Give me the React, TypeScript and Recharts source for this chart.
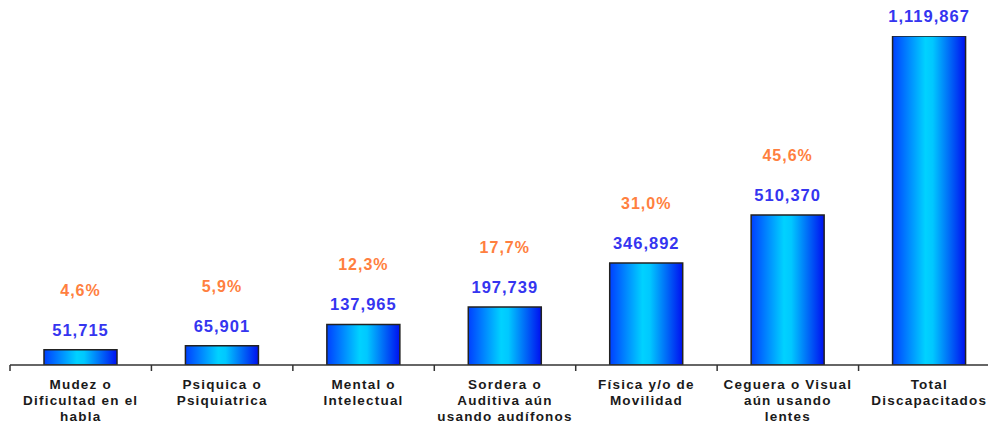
import { Bar, BarChart, LabelList, XAxis, YAxis } from "recharts"

const categories = [
  ["Mudez o", "Dificultad en el", "habla"],
  ["Psiquica o", "Psiquiatrica"],
  ["Mental o", "Intelectual"],
  ["Sordera o", "Auditiva aún", "usando audífonos"],
  ["Física y/o de", "Movilidad"],
  ["Ceguera o Visual", "aún usando", "lentes"],
  ["Total", "Discapacitados"],
]
const values = [51715, 65901, 137965, 197739, 346892, 510370, 1119867]
const percents = ["4,6%", "5,9%", "12,3%", "17,7%", "31,0%", "45,6%", ""]

const data = categories.map((lines, i) => ({
  name: lines.join(" "),
  lines,
  value: values[i],
  pct: percents[i],
}))

const WIDTH = 994
const HEIGHT = 418
const MARGIN = { top: 28, right: 2, left: 2, bottom: 0 }
const BAND = (WIDTH - MARGIN.left - MARGIN.right) / categories.length
const FONT = "'Liberation Sans', Arial, sans-serif"

const CategoryTick = ({ x, y, index }: any) => {
  const lines = categories[index] || []
  return (
    <g>
      <line x1={x - BAND / 2} x2={x - BAND / 2} y1={y} y2={y + 6} stroke="#333" strokeWidth={1.5} />
      {index === categories.length - 1 && (
        <line x1={x + BAND / 2} x2={x + BAND / 2} y1={y} y2={y + 6} stroke="#333" strokeWidth={1.5} />
      )}
      <text
        x={x}
        y={y + 24}
        textAnchor="middle"
        fontFamily={FONT}
        fontSize={13.5}
        fontWeight="bold"
        letterSpacing={1.2}
        fill="#1a1a1a"
      >
        {lines.map((l, i) => (
          <tspan key={i} x={x} dy={i === 0 ? 0 : 16}>
            {l}
          </tspan>
        ))}
      </text>
    </g>
  )
}

const ValueLabel = ({ x, y, width, index }: any) => {
  const cx = x + width / 2
  return (
    <g fontFamily={FONT} fontWeight="bold" fontSize={16.5} textAnchor="middle" letterSpacing={1}>
      <text x={cx} y={y - 14} fill="#3535f0">
        {values[index].toLocaleString("en-US")}
      </text>
      {percents[index] && (
        <text x={cx} y={y - 54} fill="#ff7f40" fontSize={16}>
          {percents[index]}
        </text>
      )}
    </g>
  )
}

export default function App() {
  return (
    <div style={{ width: WIDTH, height: HEIGHT, background: "#fff" }}>
      <BarChart width={WIDTH} height={HEIGHT} data={data} margin={MARGIN} barCategoryGap={0}>
        <defs>
          <linearGradient id="barGrad" x1="0" y1="0" x2="1" y2="0">
            <stop offset="0%" stopColor="#0040ff" />
            <stop offset="45%" stopColor="#00d2ff" />
            <stop offset="55%" stopColor="#00c8ff" />
            <stop offset="100%" stopColor="#0010f0" />
          </linearGradient>
        </defs>
        <XAxis
          dataKey="name"
          height={61}
          interval={0}
          tickSize={0}
          tickMargin={0}
          tickLine={false}
          axisLine={{ stroke: "#333", strokeWidth: 1.5 }}
          tick={<CategoryTick />}
        />
        <YAxis hide domain={[0, 1119867]} allowDataOverflow />
        <Bar
          dataKey="value"
          barSize={73}
          fill="url(#barGrad)"
          stroke="#222"
          strokeWidth={1.5}
          isAnimationActive={false}
        >
          <LabelList dataKey="value" content={<ValueLabel />} />
        </Bar>
      </BarChart>
    </div>
  )
}
